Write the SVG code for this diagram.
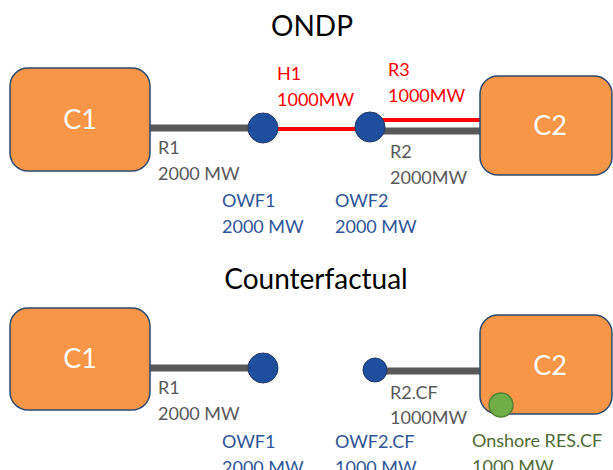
<svg xmlns="http://www.w3.org/2000/svg" width="613" height="470" viewBox="0 0 613 470">
<style>
.box{fill:#F79646;stroke:#2E4A6E;stroke-width:1.5}
.bt{font-family:Lato,"Open Sans",sans-serif;font-size:27px;fill:#fff;text-anchor:middle}
.ttl{font-family:Lato,"Open Sans",sans-serif;font-size:28px;fill:#000;text-anchor:middle}
.lb{font-family:Lato,"Open Sans",sans-serif;font-size:18px}
.g{fill:#595959}.r{fill:#FF0000}.b{fill:#2F5597}.gr{fill:#4F6B35}
.owf{fill:#1F4E9F;stroke:#1F3864;stroke-width:1}
.gl{stroke:#595959;stroke-width:7}
.rl{stroke:#FF0000;stroke-width:4}
</style>
<rect width="613" height="470" fill="#fff"/>
<text class="ttl" x="312" y="36">ONDP</text>
<text class="ttl" x="316" y="289">Counterfactual</text>
<g id="connectors">
<line class="gl" x1="150" y1="128" x2="262" y2="128"/>
<line class="rl" x1="263" y1="129" x2="370" y2="129"/>
<line class="rl" x1="370" y1="120" x2="481" y2="120"/>
<line class="gl" x1="370" y1="131" x2="481" y2="131"/>
<line class="gl" x1="150" y1="368" x2="262" y2="368"/>
<line class="gl" x1="375" y1="371" x2="481" y2="371"/>
</g>
<g id="c1-top"><rect class="box" x="10" y="68" width="140" height="103" rx="18"/><text class="bt" x="80" y="129">C1</text></g>
<g id="c2-top"><rect class="box" x="480" y="76" width="132" height="99" rx="18"/><text class="bt" x="550" y="135">C2</text></g>
<g id="owf1-top"><circle class="owf" cx="263" cy="128" r="15"/></g>
<g id="owf2-top"><circle class="owf" cx="370" cy="127" r="15"/></g>
<g id="c1-cf"><rect class="box" x="10" y="308" width="140" height="102" rx="18"/><text class="bt" x="80" y="368">C1</text></g>
<g id="c2-cf"><rect class="box" x="480" y="315" width="132" height="99" rx="18"/><text class="bt" x="550" y="375">C2</text></g>
<g id="owf1-cf"><circle class="owf" cx="263" cy="368" r="15"/></g>
<g id="owf2-cf"><circle class="owf" cx="375" cy="370" r="12"/></g>
<g id="res-cf"><circle cx="501" cy="405" r="12" fill="#70AD47" stroke="#548235" stroke-width="1.5"/></g>
<g id="labels">
<text class="lb g" x="158" y="154">R1</text><text class="lb g" x="158" y="180">2000 MW</text>
<text class="lb r" x="277" y="80">H1</text><text class="lb r" x="277" y="106">1000MW</text>
<text class="lb r" x="388" y="76">R3</text><text class="lb r" x="388" y="102">1000MW</text>
<text class="lb g" x="390" y="158">R2</text><text class="lb g" x="390" y="184">2000MW</text>
<text class="lb b" x="222" y="207">OWF1</text><text class="lb b" x="222" y="233">2000 MW</text>
<text class="lb b" x="335" y="207">OWF2</text><text class="lb b" x="335" y="233">2000 MW</text>
<text class="lb g" x="158" y="394">R1</text><text class="lb g" x="158" y="420">2000 MW</text>
<text class="lb g" x="390" y="399">R2.CF</text><text class="lb g" x="390" y="424">1000MW</text>
<text class="lb b" x="222" y="448">OWF1</text><text class="lb b" x="222" y="474">2000 MW</text>
<text class="lb b" x="335" y="448">OWF2.CF</text><text class="lb b" x="335" y="474">1000 MW</text>
<text class="lb gr" x="472" y="447">Onshore RES.CF</text><text class="lb gr" x="472" y="473">1000 MW</text>
</g>
</svg>
